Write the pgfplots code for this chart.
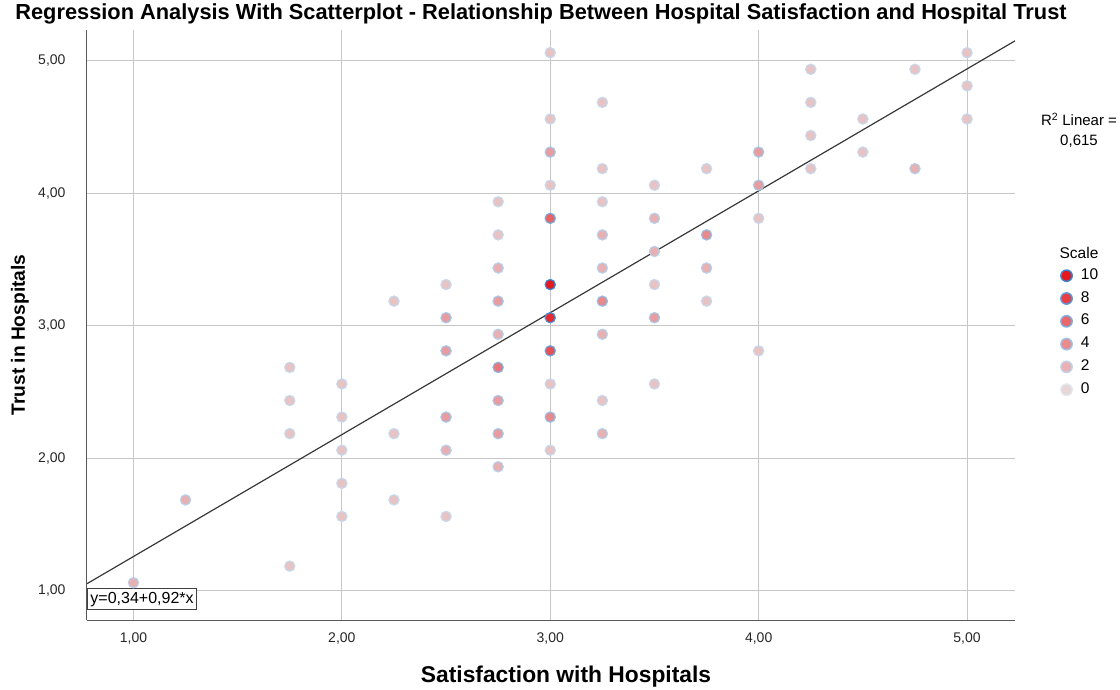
\documentclass[border=0pt]{standalone}
\usepackage{pgfplots}
\pgfplotsset{compat=1.18}
\usepackage{fontspec}
\setmainfont{Liberation Sans}
\pgfplotstableread{
x y c
1.00 1.0625 2
1.25 1.6875 2
1.75 2.6875 1
1.75 2.4375 1
1.75 2.1875 1
1.75 1.1875 1
2.00 2.5625 1
2.00 2.3125 1
2.00 2.0625 1
2.00 1.8125 1
2.00 1.5625 1
2.25 3.1875 1
2.25 2.1875 1
2.25 1.6875 1
2.50 3.3125 1
2.50 3.0625 3
2.50 2.8125 3
2.50 2.3125 3
2.50 2.0625 2
2.50 1.5625 1
2.75 3.9375 1
2.75 3.6875 1
2.75 3.4375 2
2.75 3.1875 3
2.75 2.9375 2
2.75 2.6875 5
2.75 2.4375 3
2.75 2.1875 3
2.75 1.9375 2
3.00 5.0625 1
3.00 4.5625 1
3.00 4.3125 3
3.00 4.0625 1
3.00 3.8125 6
3.00 3.3125 10
3.00 3.0625 9
3.00 2.8125 7
3.00 2.5625 1
3.00 2.3125 4
3.00 2.0625 1
3.25 4.6875 1
3.25 4.1875 1
3.25 3.9375 1
3.25 3.6875 2
3.25 3.4375 2
3.25 3.1875 4
3.25 2.9375 2
3.25 2.4375 1
3.25 2.1875 2
3.50 4.0625 1
3.50 3.8125 2
3.50 3.5625 2
3.50 3.3125 1
3.50 3.0625 3
3.50 2.5625 1
3.75 4.1875 1
3.75 3.6875 4
3.75 3.4375 2
3.75 3.1875 1
4.00 4.3125 3
4.00 4.0625 3
4.00 3.8125 1
4.00 2.8125 1
4.25 4.9375 1
4.25 4.6875 1
4.25 4.4375 1
4.25 4.1875 1
4.50 4.5625 1
4.50 4.3125 1
4.75 4.9375 1
4.75 4.1875 2
5.00 5.0625 1
5.00 4.8125 1
5.00 4.5625 1
}\pts
\definecolor{lr10}{RGB}{229,25,30}
\definecolor{lr8}{RGB}{230,64,68}
\definecolor{lr6}{RGB}{231,103,106}
\definecolor{lr4}{RGB}{232,140,142}
\definecolor{lr2}{RGB}{232,178,180}
\definecolor{lr0}{RGB}{232,214,215}
\definecolor{lb10}{RGB}{55,135,215}
\definecolor{lb8}{RGB}{90,155,222}
\definecolor{lb6}{RGB}{125,175,228}
\definecolor{lb4}{RGB}{158,195,233}
\definecolor{lb2}{RGB}{192,213,237}
\definecolor{lb0}{RGB}{224,231,240}
\begin{document}
\begin{tikzpicture}
\useasboundingbox (0pt,0pt) rectangle (1120pt,689pt);
\begin{axis}[at={(87pt,69pt)}, anchor=south west, scale only axis,
  width=928pt, height=590pt,
  xmin=0.777, xmax=5.23, ymin=0.781, ymax=5.234,
  axis x line*=bottom, axis y line*=left,
  axis line style={-, draw=black!65, line width=1pt},
  xtick={1,2,3,4,5}, ytick={1,2,3,4,5},
  xticklabels={{1,00},{2,00},{3,00},{4,00},{5,00}},
  yticklabels={{1,00},{2,00},{3,00},{4,00},{5,00}},
  grid=major, grid style={draw=black!22, line width=1pt},
  major tick length=0pt,
  tick label style={font=\fontsize{14}{16}\selectfont, text=black!85},
  yticklabel style={anchor=east, xshift=-18pt},
  xticklabel style={anchor=north, yshift=-9pt},
  point meta min=0, point meta max=10,
  legend style={at={(1.0452,0.5983)}, anchor=north west, draw=none, fill=none,
    font=\fontsize{15.5}{17}\selectfont, row sep=9.8pt,
    nodes={inner sep=0pt, text height=10pt, text depth=3pt},
    /tikz/every odd column/.append style={column sep=8pt}},
  legend cell align=left,
  legend image code/.code={\draw[#1] (6.5pt,0pt) circle (5.7pt);},
  clip=false,
]
\addplot[scatter, only marks, mark=*, mark size=5.5pt, forget plot,
  scatter src=explicit,
  colormap={bl}{rgb255=(214,225,240) rgb255=(55,135,215)},
  scatter/use mapped color={draw=mapped color, fill=mapped color}]
  table[x=x, y=y, meta=c]{\pts};
\addplot[scatter, only marks, mark=*, mark size=4.1pt, forget plot,
  scatter src=explicit,
  colormap={rd}{rgb255=(232,214,215) rgb255=(229,25,30)},
  scatter/use mapped color={draw=mapped color, fill=mapped color}]
  table[x=x, y=y, meta=c]{\pts};
\addplot[draw=black!78, line width=1.2pt, forget plot] coordinates {(0.777,1.055) (5.23,5.152)};
\addlegendimage{fill=lr10, draw=lb10, line width=1.4pt}\addlegendentry{10}
\addlegendimage{fill=lr8, draw=lb8, line width=1.4pt}\addlegendentry{8}
\addlegendimage{fill=lr6, draw=lb6, line width=1.4pt}\addlegendentry{6}
\addlegendimage{fill=lr4, draw=lb4, line width=1.4pt}\addlegendentry{4}
\addlegendimage{fill=lr2, draw=lb2, line width=1.4pt}\addlegendentry{2}
\addlegendimage{fill=lr0, draw=lb0, line width=1.4pt}\addlegendentry{0}
\node[draw=black!75, line width=1pt, fill=white, anchor=south west, inner sep=3pt,
  font=\fontsize{16}{18}\selectfont] at (rel axis cs:0,0.017) {y=0,34+0,92*x};
\end{axis}
\node[font=\bfseries\fontsize{21.8}{24}\selectfont] at (541pt,675pt) {Regression Analysis With Scatterplot - Relationship Between Hospital Satisfaction and Hospital Trust};
\node[font=\bfseries\fontsize{19.2}{22}\selectfont, rotate=90] at (20pt,354pt) {Trust in Hospitals};
\node[font=\bfseries\fontsize{22.8}{24}\selectfont] at (566pt,12pt) {Satisfaction with Hospitals};
\node[font=\fontsize{15}{20}\selectfont, align=center] at (1079pt,559pt) {R\textsuperscript{2} Linear =\\0,615};
\node[font=\fontsize{15.5}{17}\selectfont] at (1079pt,436pt) {Scale};
\end{tikzpicture}
\end{document}
